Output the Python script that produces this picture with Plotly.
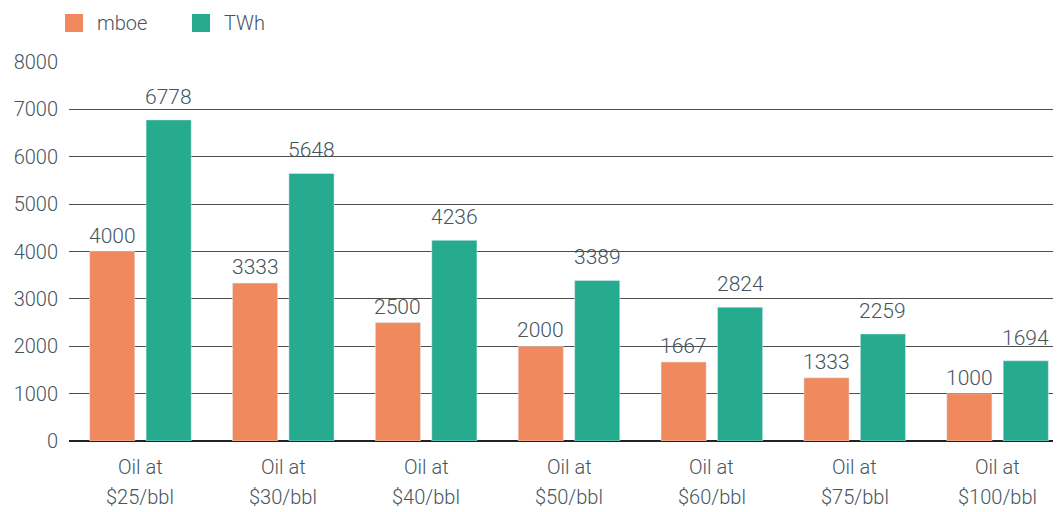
import plotly.graph_objects as go

line1 = "Oil at"
prices = ["$25/bbl", "$30/bbl", "$40/bbl", "$50/bbl", "$60/bbl", "$75/bbl", "$100/bbl"]
categories = [f"{line1} {p}" for p in prices]
mboe = [4000, 3333, 2500, 2000, 1667, 1333, 1000]
twh = [6778, 5648, 4236, 3389, 2824, 2259, 1694]
y_ticks = [0, 1000, 2000, 3000, 4000, 5000, 6000, 7000, 8000]
series = [("mboe", "#F0895E"), ("TWh", "#27AB8F")]

FONT = "Roboto, 'Open Sans', sans-serif"
TXT = "#45555e"
BARGAP, GROUPGAP = 0.21, 0.2

fig = go.Figure()
for (nm, col), vals in zip(series, [mboe, twh]):
    fig.add_trace(go.Bar(name=nm, x=categories, y=vals, marker_color=col,
                         showlegend=False, cliponaxis=False))

# plot area geometry (figure px): left 61, top 54, height 379, width 1000
T, H, L, W = 54, 379, 61, 1000
def py(p):  # figure pixel y -> paper y
    return (T + H - p) / H
def px(p):  # figure pixel x -> paper x
    return (p - L) / W

# value labels above bars
unit_px = W / 7.0
slot = (1 - BARGAP) / 2
label_lift = [2, 9]
for i, ((nm, col), vals) in enumerate(zip(series, [mboe, twh])):
    shift = (i - 0.5) * slot * unit_px
    for c, v in zip(categories, vals):
        fig.add_annotation(text=str(v), x=c, y=v, xref="x", yref="y",
                           xshift=shift, yshift=label_lift[i],
                           xanchor="center", yanchor="bottom", showarrow=False,
                           font=dict(size=21, color=TXT, family=FONT, weight=300))

# manual legend
leg_x = [57, 184]
for (nm, col), x0 in zip(series, leg_x):
    fig.add_shape(type="rect", xref="paper", yref="paper",
                  x0=px(x0), x1=px(x0 + 18), y0=py(24), y1=py(6),
                  fillcolor=col, line_width=0)
    fig.add_annotation(text=nm, xref="paper", yref="paper", x=px(x0 + 30), y=py(15),
                       xanchor="left", yanchor="middle", showarrow=False,
                       font=dict(size=20, color=TXT, family=FONT, weight=300))

# two-line category labels
for c, p in zip(categories, prices):
    fig.add_annotation(text=line1, x=c, xref="x", yref="paper", y=py(459),
                       xanchor="center", yanchor="middle", showarrow=False,
                       font=dict(size=20, color=TXT, family=FONT, weight=300))
    fig.add_annotation(text=p, x=c, xref="x", yref="paper", y=py(489),
                       xanchor="center", yanchor="middle", showarrow=False,
                       font=dict(size=20, color=TXT, family=FONT, weight=300))

fig.update_layout(
    width=1061, height=512,
    margin=dict(l=L, r=1061 - L - W, t=T, b=512 - T - H, autoexpand=False),
    paper_bgcolor="white", plot_bgcolor="white",
    barmode="group", bargap=BARGAP, bargroupgap=GROUPGAP,
    font=dict(family=FONT, color=TXT, size=20),
    showlegend=False,
    xaxis=dict(range=[-0.5, 6.5], showgrid=False, ticks="", automargin=False,
               showticklabels=False, showline=False),
    yaxis=dict(range=[0, 8000], tickvals=y_ticks, showgrid=True, gridcolor="#4d4d4d",
               gridwidth=1, zeroline=True, zerolinecolor="#222222", zerolinewidth=2,
               automargin=False,
               tickfont=dict(size=20, color=TXT, family=FONT, weight=300),
               ticklabelstandoff=10),
)

fig.write_html("out.html")
